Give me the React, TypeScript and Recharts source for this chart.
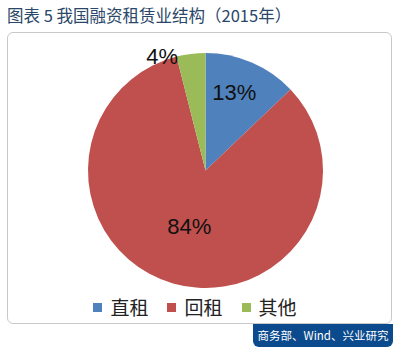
import React from "react";
import { PieChart, Pie, Cell, Legend } from "recharts";

const categories = ["直租", "回租", "其他"];
const shares = [13, 84, 4];
const colors = ["#4f81bd", "#c0504d", "#9bbb59"];
// label placement: [radius factor, angle shift in degrees]
const labelPlacement: [number, number][] = [
  [0.71, 3],
  [0.5, 0],
  [1.04, 13.7],
];
const titleText = "图表 5 我国融资租赁业结构（2015年）";
const sourceText = "商务部、Wind、兴业研究";

const data = categories.map((name, i) => ({ name, value: shares[i] }));

const RAD = Math.PI / 180;

const renderLabel = (props: any) => {
  const { cx, cy, midAngle, outerRadius, index, value } = props;
  const [rf, shift] = labelPlacement[index];
  const a = (midAngle + shift) * RAD;
  const r = outerRadius * rf;
  const x = cx + r * Math.cos(a);
  const y = cy - r * Math.sin(a);
  return (
    <text
      x={x}
      y={y}
      textAnchor="middle"
      dominantBaseline="central"
      fill="#111"
      fontSize={22}
      fontFamily="'Liberation Sans', Arial, sans-serif"
    >
      {value}%
    </text>
  );
};

const renderLegend = () => {
  return (
    <div style={{ display: "flex", justifyContent: "center", alignItems: "center" }}>
      {categories.map((name, i) => (
        <div
          key={name}
          style={{ display: "flex", alignItems: "center", marginRight: i < categories.length - 1 ? 19 : 0 }}
        >
          <span style={{ width: 9, height: 9, background: colors[i], display: "inline-block", marginRight: 8 }} />
          <span
            style={{
              fontSize: 19,
              lineHeight: "20px",
              color: "#222",
              fontFamily: "'Noto Sans CJK SC', sans-serif",
            }}
          >
            {name}
          </span>
        </div>
      ))}
    </div>
  );
};

export default function App() {
  return (
    <div style={{ position: "absolute", left: 0, top: 0, width: 400, height: 355, background: "#fff", overflow: "hidden" }}>
      <div
        style={{
          position: "absolute",
          left: 7,
          top: 5,
          fontSize: 16.5,
          lineHeight: "20px",
          color: "#2a4668",
          fontFamily: "'Noto Sans CJK SC', sans-serif",
          whiteSpace: "nowrap",
        }}
      >
        {titleText}
      </div>
      <div
        style={{
          position: "absolute",
          left: 7,
          top: 32,
          width: 385,
          height: 292,
          border: "1.5px solid #c9c9c9",
          borderRadius: 6,
          boxSizing: "border-box",
        }}
      />
      <div
        style={{
          position: "absolute",
          left: 253,
          top: 324,
          width: 140,
          height: 23,
          background: "#0b4a8c",
          borderBottomRightRadius: 6,
          borderBottomLeftRadius: 6,
          color: "#fff",
          fontSize: 11.5,
          lineHeight: "23px",
          textAlign: "center",
          fontFamily: "'Noto Sans CJK SC', sans-serif",
          whiteSpace: "nowrap",
        }}
      >
        {sourceText}
      </div>
      <div style={{ position: "absolute", left: 0, top: 0 }}>
        <PieChart width={400} height={355}>
          <Pie
            data={data}
            dataKey="value"
            nameKey="name"
            cx={200.5}
            cy={165.5}
            outerRadius={117.5}
            startAngle={90}
            endAngle={-270}
            stroke="none"
            label={renderLabel}
            labelLine={false}
            isAnimationActive={false}
          >
            {data.map((d, i) => (
              <Cell key={d.name} fill={colors[i]} />
            ))}
          </Pie>
          <Legend
            content={renderLegend}
            wrapperStyle={{ position: "absolute", left: 0, top: 297, width: 390, height: 20 }}
          />
        </PieChart>
      </div>
    </div>
  );
}
